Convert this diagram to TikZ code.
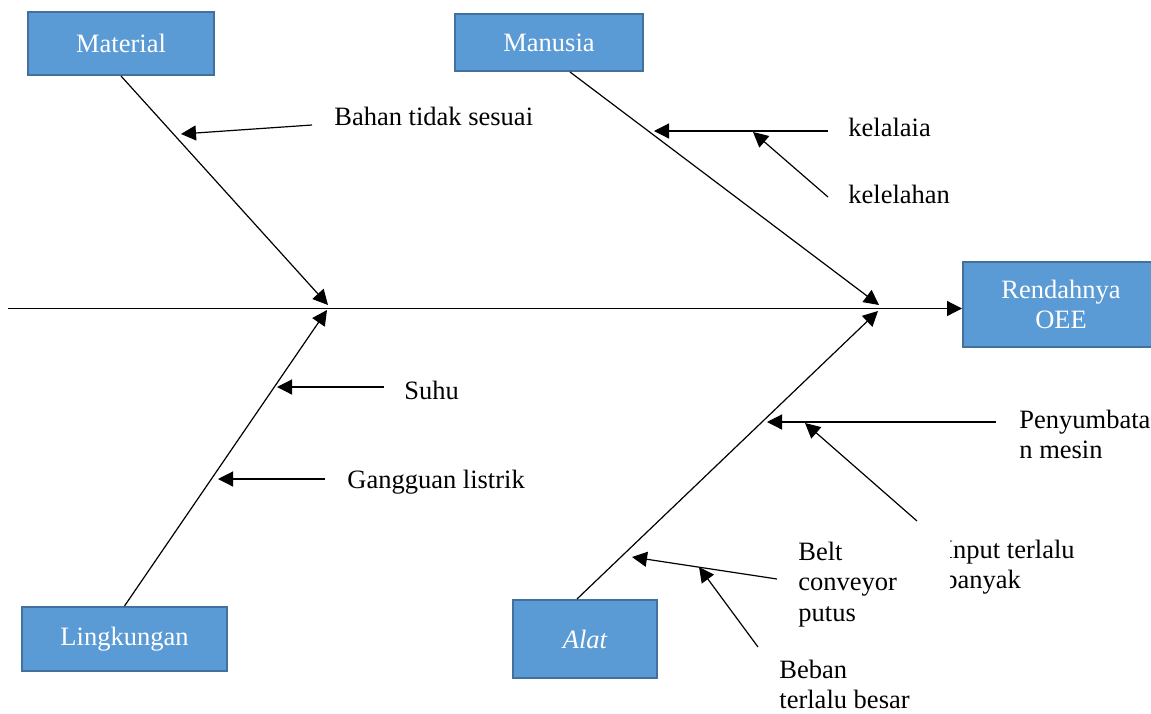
\documentclass[tikz,border=0pt]{standalone}
\usepackage{fontspec}
\setmainfont{Liberation Serif}
\usetikzlibrary{arrows.meta}
\definecolor{boxfill}{HTML}{5B9BD5}
\definecolor{boxline}{HTML}{41719C}
\begin{document}
\begin{tikzpicture}[x=0.5pt,y=-0.5pt,
  font=\fontsize{13.25}{15.3}\selectfont,
  catbox/.style={draw=boxline, line width=1pt, fill=boxfill, text=white, inner sep=0pt, align=center},
  lbl/.style={anchor=base west, inner sep=0pt},
  bone/.style={line width=0.6pt, -{Triangle[length=7.5pt,width=7.5pt]}},
]
\useasboundingbox (0,0) rectangle (1151,713);

% category boxes
\node[catbox, minimum width=93pt, minimum height=31.5pt] (mat) at (121,43.5) {Material};
\node[catbox, minimum width=94pt, minimum height=28.5pt] (manu) at (549,42.5) {Manusia};
\node[catbox, minimum width=98pt, minimum height=42.5pt] (oee) at (1061,304.5) {Rendahnya\\OEE};
\node[catbox, minimum width=102.5pt, minimum height=32pt] (ling) at (124.5,639) {Lingkungan};
\node[catbox, minimum width=72pt, minimum height=39pt] (alat) at (585,639) {\itshape Alat};

% spine
\coordinate (tail) at (8,308.5);
\draw[bone] (tail) -- (tail -| oee.west);

% main bones
\coordinate (jm) at (328,305);
\coordinate (jl) at (327,310);
\coordinate (jh) at (879,305);
\coordinate (ja) at (878,311);
\draw[bone] (mat.south) -- (jm);
\draw[bone] (ling.north) -- (jl);
\draw[bone] ([xshift=10.5pt]manu.south) -- (jh);
\draw[bone] ([xshift=-4pt]alat.north) -- (ja);

% cause arrows
\coordinate (s1) at (312,125);  \coordinate (e1) at (181,134);
\coordinate (s2) at (828,131);  \coordinate (e2) at (654,131);
\coordinate (s3) at (828,197);  \coordinate (e3) at (753,132);
\coordinate (s4) at (384,387);  \coordinate (e4) at (277,387);
\coordinate (s5) at (325,479);  \coordinate (e5) at (218,479);
\coordinate (s6) at (996,422);  \coordinate (e6) at (767,422);
\coordinate (s7) at (917,521);  \coordinate (e7) at (805,423);
\coordinate (s8) at (777,579);  \coordinate (e8) at (632,557);
\coordinate (s9) at (758,647);  \coordinate (e9) at (699,567);
\foreach \i in {1,...,9} {\draw[bone] (s\i) -- (e\i);}

% labels
\node[lbl] (tbahan) at (334,125) {Bahan tidak sesuai};
\node[lbl] (tlalai) at (848,136) {kelalaia};
\node[lbl] (tlelah) at (848,203) {kelelahan};
\node[lbl] (tsuhu) at (404,399) {Suhu};
\node[lbl] (tlistrik) at (347,488) {Gangguan listrik};
\node[lbl] (tsumbat) at (1019,428) {\begin{tabular}[t]{@{}l@{}}Penyumbata\\n mesin\end{tabular}};
\begin{scope}
\clip (950,520) rectangle (1151,610);
\node[lbl] (tinput) at (944,558) {\begin{tabular}[t]{@{}l@{}}Input terlalu\\banyak\end{tabular}};
\end{scope}
\node[lbl] (tbelt) at (798,560) {\begin{tabular}[t]{@{}l@{}}Belt\\conveyor\\putus\end{tabular}};
\node[lbl] (tbeban) at (779,678) {\begin{tabular}[t]{@{}l@{}}Beban\\terlalu besar\end{tabular}};
\end{tikzpicture}
\end{document}
